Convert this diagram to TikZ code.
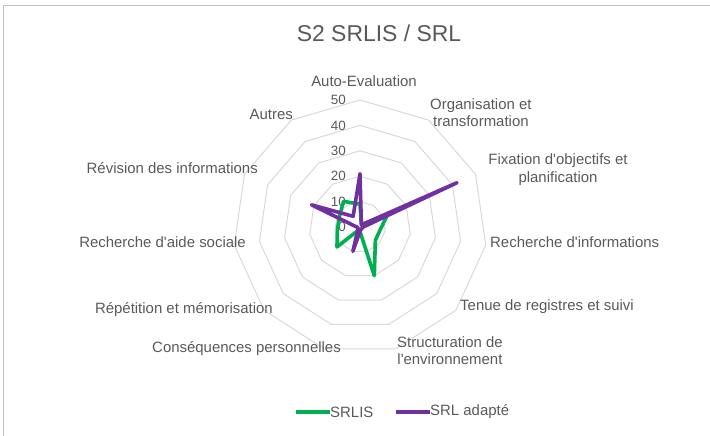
\documentclass[tikz,border=0pt]{standalone}
\usepackage{fontspec}
\setmainfont{Liberation Sans}[Ligatures=TeXOff]
\usetikzlibrary{positioning,calc}
\definecolor{srlis}{HTML}{00B050}
\definecolor{srladapt}{HTML}{7030A0}
\definecolor{txt}{HTML}{595959}
\definecolor{ring}{HTML}{D9D9D9}
\definecolor{framegray}{HTML}{BFBFBF}

\begin{document}
\begin{tikzpicture}[x=1bp,y=-1bp,
    lbl/.style={text=txt,font=\fontsize{15}{17.5}\selectfont,inner sep=0pt,align=center},
    tick/.style={text=txt,font=\fontsize{13.5}{15}\selectfont,inner sep=0pt,anchor=east},
    gridline/.style={draw=ring,line width=1bp},
    serie/.style={line width=3.6bp,line join=round}]
  \useasboundingbox (0,0) rectangle (710,436);
  \draw[framegray,line width=1.4bp] (3.5,436) -- (3.5,5.5) -- (710,5.5);
  \node[text=txt,font=\fontsize{23}{26}\selectfont,inner sep=0pt] (title) at (379,33) {S2 SRLIS / SRL};

  \coordinate (O) at (360,227);
  \begin{scope}[shift={(O)}]
    \foreach \r in {10,20,30,40,50}
      \path[gridline] (-90:{\r*2.54}) \foreach \k in {1,...,10} { -- ({-90+\k*360/11}:{\r*2.54}) } -- cycle;
    \foreach \r in {0,10,20,30,40,50}
      \node[tick] (t\r) at (-14,{-\r*2.54}) {\r};
    % SRLIS
    \foreach \v [count=\k from 0] in {9,1,12,8,8,20,1,12,9,9,12}
      \coordinate (g\k) at ({-90+\k*360/11}:{\v*2.54});
    \draw[serie,srlis] (g0) \foreach \k in {1,...,10} { -- (g\k) } -- cycle;
    % SRL adapte
    \foreach \v [count=\k from 0] in {21,1,42,1,1,1,10,1,1,21,5}
      \coordinate (p\k) at ({-90+\k*360/11}:{\v*2.54});
    \draw[serie,srladapt] (p0) \foreach \k in {1,...,10} { -- (p\k) } -- cycle;
  \end{scope}

  \node[lbl] (autoeval) at (364,81) {Auto-Evaluation};
  \node[lbl,anchor=west] (organis) at (430,112.5) {Organisation et\\transformation};
  \node[lbl] (fixation) at (558,169.5) {Fixation d'objectifs et\\planification};
  \node[lbl,anchor=west] (rechinfo) at (490,242) {Recherche d'informations};
  \node[lbl,anchor=west] (tenue) at (460,307) {Tenue de registres et suivi};
  \node[lbl,anchor=west] (structur) at (397,350.5) {Structuration de\\l'environnement};
  \node[lbl,anchor=east] (conseq) at (341,349) {Conséquences personnelles};
  \node[lbl,anchor=east] (repet) at (273,310) {Répétition et mémorisation};
  \node[lbl,anchor=east] (rechaide) at (246,242) {Recherche d'aide sociale};
  \node[lbl,anchor=east] (revision) at (258,168) {Révision des informations};
  \node[lbl,anchor=east] (autres) at (293,114) {Autres};

  \node[lbl,anchor=west] (legA) at (330,412) {SRLIS};
  \node[lbl,anchor=west] (legB) at (430,412) {SRL adapté};
  \draw[srlis,line width=3.6bp] (legA.west) -- ++(-34,0);
  \draw[srladapt,line width=3.6bp] (legB.west) -- ++(-34,0);
\end{tikzpicture}
\end{document}
